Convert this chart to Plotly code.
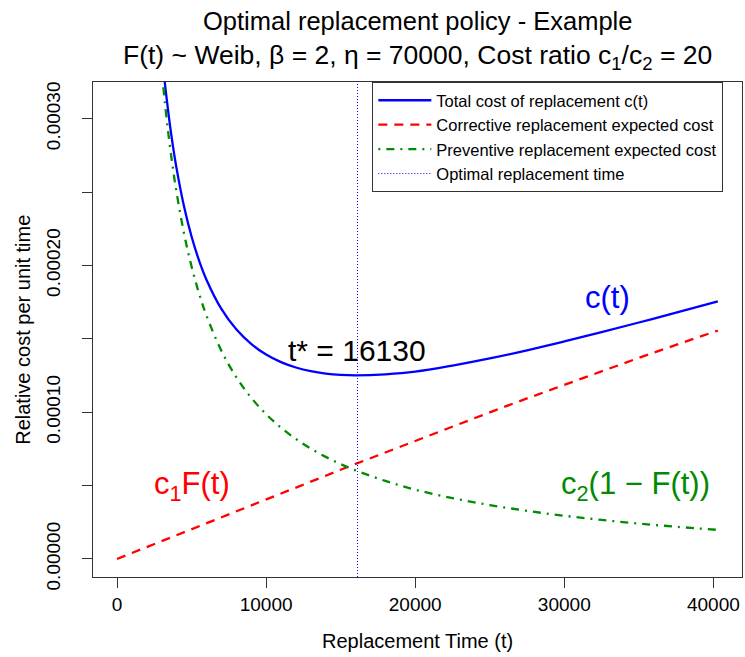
import plotly.graph_objects as go

# ---- data ----
t_vals = [2800, 3000, 3250, 3500, 3750, 4000, 4500, 5000, 5500, 6000, 7000, 8000, 9000,
          10000, 11000, 12000, 13000, 14000, 15000, 16000, 18000, 20000, 22500, 25000,
          27500, 30000, 32500, 35000, 37500, 40300]
total_cost = [3.682e-4, 3.4517e-4, 3.2051e-4, 2.9952e-4, 2.8146e-4, 2.6578e-4, 2.3997e-4,
              2.1971e-4, 2.0350e-4, 1.9031e-4, 1.7043e-4, 1.5650e-4, 1.4653e-4, 1.3933e-4,
              1.3414e-4, 1.3045e-4, 1.2793e-4, 1.2631e-4, 1.2541e-4, 1.2509e-4, 1.2581e-4,
              1.2761e-4, 1.3174e-4, 1.3660e-4, 1.4216e-4, 1.4820e-4, 1.5456e-4, 1.6113e-4,
              1.6784e-4, 1.7544e-4]
corrective_cost = [1.1425e-5, 1.2241e-5, 1.3261e-5, 1.4280e-5, 1.5299e-5, 1.6320e-5, 1.8355e-5,
                   2.0391e-5, 2.2426e-5, 2.4460e-5, 2.8524e-5, 3.2581e-5, 3.6634e-5, 4.0678e-5,
                   4.4714e-5, 4.8741e-5, 5.2757e-5, 5.6766e-5, 6.0758e-5, 6.4740e-5, 7.2659e-5,
                   8.0365e-5, 9.0272e-5, 9.9891e-5, 1.09388e-4, 1.18748e-4, 1.27964e-4,
                   1.37009e-4, 1.45895e-4, 1.55639e-4]
corr_t = [0] + t_vals
corr_y = [0.0] + corrective_cost
preventive_cost = [3.5676e-4, 3.3293e-4, 3.0725e-4, 2.8524e-4, 2.6616e-4, 2.4946e-4, 2.2161e-4,
                   1.9932e-4, 1.8107e-4, 1.6585e-4, 1.4191e-4, 1.2392e-4, 1.0989e-4, 9.8647e-5,
                   8.9422e-5, 8.1713e-5, 7.5170e-5, 6.9547e-5, 6.4651e-5, 6.0353e-5, 5.3147e-5,
                   4.7241e-5, 4.1468e-5, 3.6713e-5, 3.2774e-5, 2.9448e-5, 2.6596e-5, 2.4119e-5,
                   2.1944e-5, 1.9799e-5]
t_opt = 16130
x_ticks = [0, 10000, 20000, 30000, 40000]
y_ticks = [0.0, 0.00005, 0.0001, 0.00015, 0.0002, 0.00025, 0.0003]
y_tick_text = ["0.00000", "", "0.00010", "", "0.00020", "", "0.00030"]
x_range = [-1610, 41920]
y_range = [-0.0000123, 0.000325]

FONT = "Liberation Sans, Arial, sans-serif"

fig = go.Figure()
fig.add_trace(go.Scatter(x=t_vals, y=total_cost, mode="lines", name="Total cost of replacement c(t)",
                         line=dict(color="#0000FF", width=2.3, shape="spline")))
fig.add_trace(go.Scatter(x=corr_t, y=corr_y, mode="lines", name="Corrective replacement expected cost",
                         line=dict(color="#FF0000", width=2.3, dash="9px,7px")))
fig.add_trace(go.Scatter(x=t_vals, y=preventive_cost, mode="lines", name="Preventive replacement expected cost",
                         line=dict(color="#008B00", width=2.3, dash="2px,6px,8px,6px", shape="spline")))
fig.add_trace(go.Scatter(x=[t_opt, t_opt], y=y_range, mode="lines", name="Optimal replacement time",
                         line=dict(color="#0000FF", width=1, dash="1px,2px")))

annotations = [
    dict(text="Optimal replacement policy - Example", xref="paper", yref="paper", x=0.5, y=1.1238,
         showarrow=False, font=dict(size=25.5, color="black", family=FONT), xanchor="center", yanchor="middle"),
    dict(text="F(t) ~ Weib, β = 2, η = 70000, Cost ratio c<sub>1</sub>/c<sub>2</sub> = 20", xref="paper", yref="paper",
         x=0.5, y=1.0511, showarrow=False, font=dict(size=26.5, color="black", family=FONT),
         xanchor="center", yanchor="middle"),
    dict(text="Replacement Time (t)", xref="paper", yref="paper", x=0.5, y=-0.13,
         showarrow=False, font=dict(size=20, color="black", family=FONT), xanchor="center", yanchor="middle"),
    dict(text="Relative cost per unit time", xref="paper", yref="paper", x=-0.109, y=0.5, textangle=-90,
         showarrow=False, font=dict(size=20, color="black", family=FONT), xanchor="center", yanchor="middle"),
    dict(text="t* = 16130", x=t_opt, y=0.000142, showarrow=False,
         font=dict(size=30, color="black", family=FONT), xanchor="center", yanchor="middle"),
    dict(text="c(t)", x=32900, y=0.000178, showarrow=False,
         font=dict(size=31, color="#0000FF", family=FONT), xanchor="center", yanchor="middle"),
    dict(text="c<sub>1</sub>F(t)", x=5000, y=0.00005, showarrow=False,
         font=dict(size=31, color="#FF0000", family=FONT), xanchor="center", yanchor="middle"),
    dict(text="c<sub>2</sub>(1 − F(t))", x=34800, y=0.00005, showarrow=False,
         font=dict(size=31, color="#008B00", family=FONT), xanchor="center", yanchor="middle"),
]

fig.update_layout(
    width=745, height=657,
    margin=dict(l=93, r=3, t=82, b=80),
    plot_bgcolor="white", paper_bgcolor="white",
    font=dict(family=FONT, color="black"),
    annotations=annotations,
    showlegend=True,
    legend=dict(x=0.4304, y=1, xanchor="left", yanchor="top", bgcolor="white",
                bordercolor="#333333", borderwidth=1, font=dict(size=16.5, color="black", family=FONT),
                traceorder="normal", itemwidth=53),
)
fig.update_xaxes(range=x_range, tickvals=x_ticks, ticktext=[str(v) for v in x_ticks],
                 showgrid=False, zeroline=False, showline=True, mirror=True, linecolor="#333333",
                 linewidth=1.3, ticks="outside", ticklen=10, tickcolor="#333333",
                 tickfont=dict(size=19, color="black", family=FONT))
fig.update_yaxes(range=y_range, tickvals=y_ticks, ticktext=y_tick_text, tickangle=-90,
                 showgrid=False, zeroline=False, showline=True, mirror=True, linecolor="#333333",
                 linewidth=1.3, ticks="outside", ticklen=10, tickcolor="#333333", ticklabelstandoff=14,
                 tickfont=dict(size=19, color="black", family=FONT))

fig.write_html("out.html")
